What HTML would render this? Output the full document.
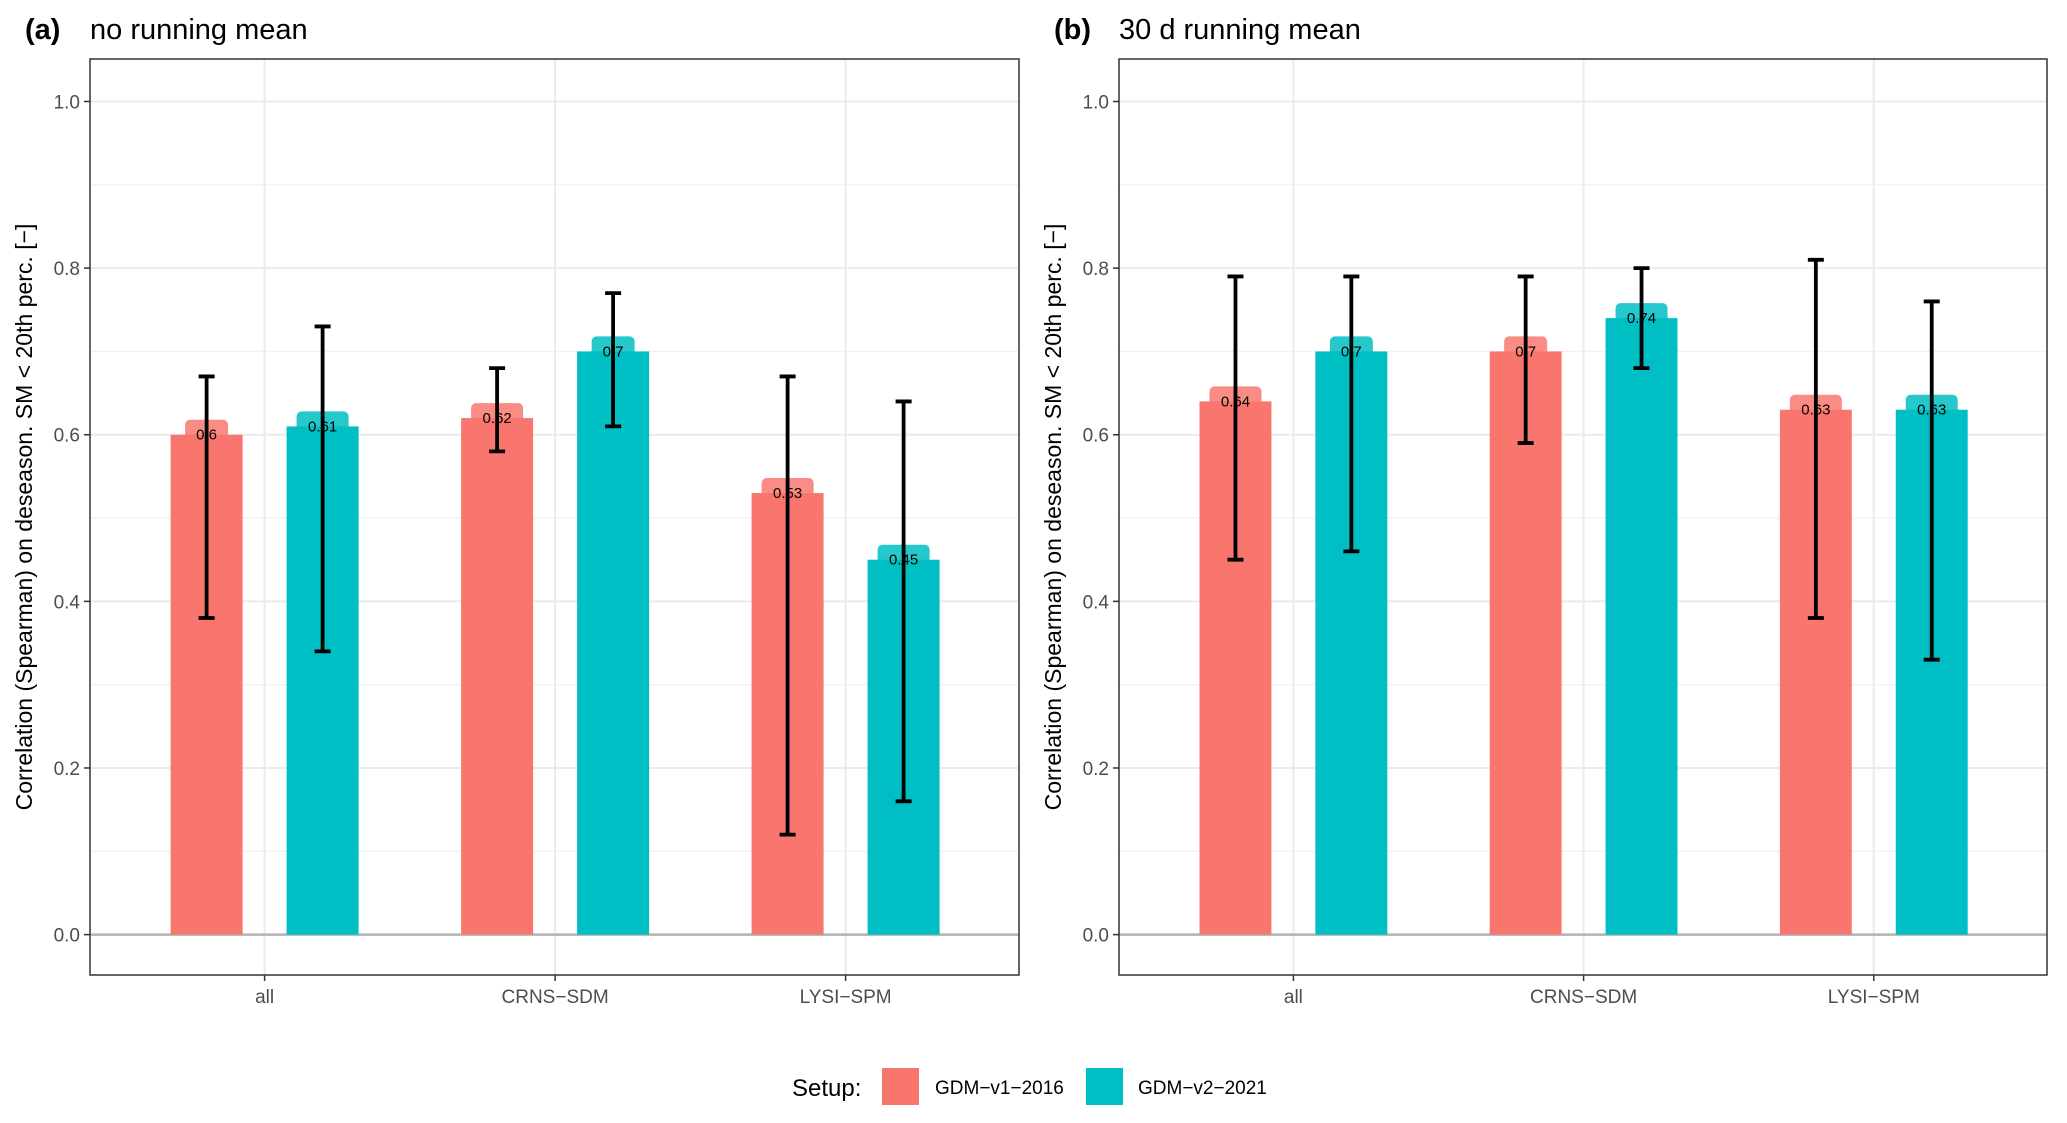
<!DOCTYPE html>
<html><head><meta charset="utf-8"><style>
body{margin:0;background:#fff;}
svg{display:block;font-family:"Liberation Sans",Arial,sans-serif;}
</style></head><body>
<svg id="chart" width="2067" height="1123" viewBox="0 0 2067 1123"></svg>
<script>
const categories = ["all","CRNS\u2212SDM","LYSI\u2212SPM"];
const panelTags = ["(a)","(b)"];
const panelTitles = ["no running mean","30 d running mean"];
const seriesNames = ["GDM\u2212v1\u22122016","GDM\u2212v2\u22122021"];
const yTicks = [0,0.2,0.4,0.6,0.8,1.0];
const yTickLabels = ["0.0","0.2","0.4","0.6","0.8","1.0"];
const yMinor = [0.1,0.3,0.5,0.7,0.9];
// panel a
const aV1 = [0.6,0.62,0.53];
const aV1Lo = [0.38,0.58,0.12];
const aV1Hi = [0.67,0.68,0.67];
const aV2 = [0.61,0.7,0.45];
const aV2Lo = [0.34,0.61,0.16];
const aV2Hi = [0.73,0.77,0.64];
// panel b
const bV1 = [0.64,0.7,0.63];
const bV1Lo = [0.45,0.59,0.38];
const bV1Hi = [0.79,0.79,0.81];
const bV2 = [0.7,0.74,0.63];
const bV2Lo = [0.46,0.68,0.33];
const bV2Hi = [0.79,0.8,0.76];

const NS="http://www.w3.org/2000/svg";
const svg=document.getElementById('chart');
function mk(tag,attrs,parent,text){const e=document.createElementNS(NS,tag);for(const k in attrs)e.setAttribute(k,attrs[k]);if(text!==undefined)e.textContent=text;(parent||svg).appendChild(e);return e;}
const colors=["#F8766D","#00BFC4"];
const labelBg=["#F98C84","#26C8CC"];
const panels=[
 {x0:90,x1:1019,data:[[aV1,aV1Lo,aV1Hi],[aV2,aV2Lo,aV2Hi]]},
 {x0:1119,x1:2047,data:[[bV1,bV1Lo,bV1Hi],[bV2,bV2Lo,bV2Hi]]}
];
const yTop=59,yBot=975;
function yS(v){return 934.6-v*(934.6-101.5);}
panels.forEach((p,pi)=>{
 const g=mk('g',{},svg);
 
 
 const sc=(p.x1-p.x0)/929;
 function xS(i){return p.x0+(174.6+290.5*i)*sc;}
 const t1=mk('text',{x:p.x0-65,y:39,'font-size':29,'font-weight':'bold',fill:'#000'},g,panelTags[pi]);
  
 const t2=mk('text',{x:p.x0,y:39,'font-size':29,fill:'#000'},g,panelTitles[pi]);
  
 yMinor.forEach(v=>{mk('line',{x1:p.x0,x2:p.x1,y1:yS(v),y2:yS(v),stroke:'#f2f2f2','stroke-width':1.3},g);});
 yTicks.forEach((v,i)=>{
  if(v!==0) mk('line',{x1:p.x0,x2:p.x1,y1:yS(v),y2:yS(v),stroke:'#ebebeb','stroke-width':2},g);
  mk('line',{x1:p.x0-6,x2:p.x0,y1:yS(v),y2:yS(v),stroke:'#333','stroke-width':1.5},g);
  const tl=mk('text',{x:p.x0-10,y:yS(v)+7,'font-size':19,fill:'#4d4d4d','text-anchor':'end'},g,yTickLabels[i]);
   
 });
 categories.forEach((c,i)=>{
  const cx=xS(i);
  mk('line',{x1:cx,x2:cx,y1:yTop,y2:yBot,stroke:'#ebebeb','stroke-width':2},g);
  mk('line',{x1:cx,x2:cx,y1:yBot,y2:yBot+6,stroke:'#333','stroke-width':1.5},g);
  const xl=mk('text',{x:cx,y:1003,'font-size':19,fill:'#4d4d4d','text-anchor':'middle'},g,c);
   
 });
 mk('line',{x1:p.x0,x2:p.x1,y1:yS(0),y2:yS(0),stroke:'#b3b3b3','stroke-width':2.5},g);
 const bw=72*sc, off=58*sc;
 categories.forEach((c,i)=>{
  [0,1].forEach(s=>{
   const cx=xS(i)+(s?off:-off);
   const v=p.data[s][0][i],lo=p.data[s][1][i],hi=p.data[s][2][i];
   const txt=String(v);
   const lw=txt.length*9+16;
   const lb=mk('rect',{x:cx-lw/2,y:yS(v)-15,width:lw,height:28,rx:5,fill:labelBg[s]},g);
    
   const b=mk('rect',{x:cx-bw/2,y:yS(v),width:bw,height:yS(0)-yS(v),fill:colors[s]},g);
    
   const eb=mk('path',{d:`M${cx-8},${yS(hi)}H${cx+8}M${cx},${yS(hi)}V${yS(lo)}M${cx-8},${yS(lo)}H${cx+8}`,stroke:'#000','stroke-width':3.8,fill:'none'},g);
    
   const vt=mk('text',{x:cx,y:yS(v)+5,'font-size':15,fill:'#000','text-anchor':'middle'},g,txt);
    
  });
 });
 const box=mk('rect',{x:p.x0,y:yTop,width:p.x1-p.x0,height:yBot-yTop,fill:'none',stroke:'#333','stroke-width':1.5},g);
  
 const yt=mk('text',{transform:`translate(${p.x0-58},${(yTop+yBot)/2}) rotate(-90)`,'font-size':23,fill:'#000','text-anchor':'middle'},g,'Correlation (Spearman) on deseason. SM < 20th perc. [\u2212]');
  
});
const lg=mk('g',{},svg);
 
const lt=mk('text',{x:792,y:1096,'font-size':24,fill:'#000'},lg,'Setup:');
 
const lx=[882,1086],tx=[935,1138];
[0,1].forEach(s=>{
 const r=mk('rect',{x:lx[s],y:1068,width:37,height:37,fill:colors[s]},lg);
  
 const t=mk('text',{x:tx[s],y:1094,'font-size':19,fill:'#000'},lg,seriesNames[s]);
  
});
</script>
</body></html>
